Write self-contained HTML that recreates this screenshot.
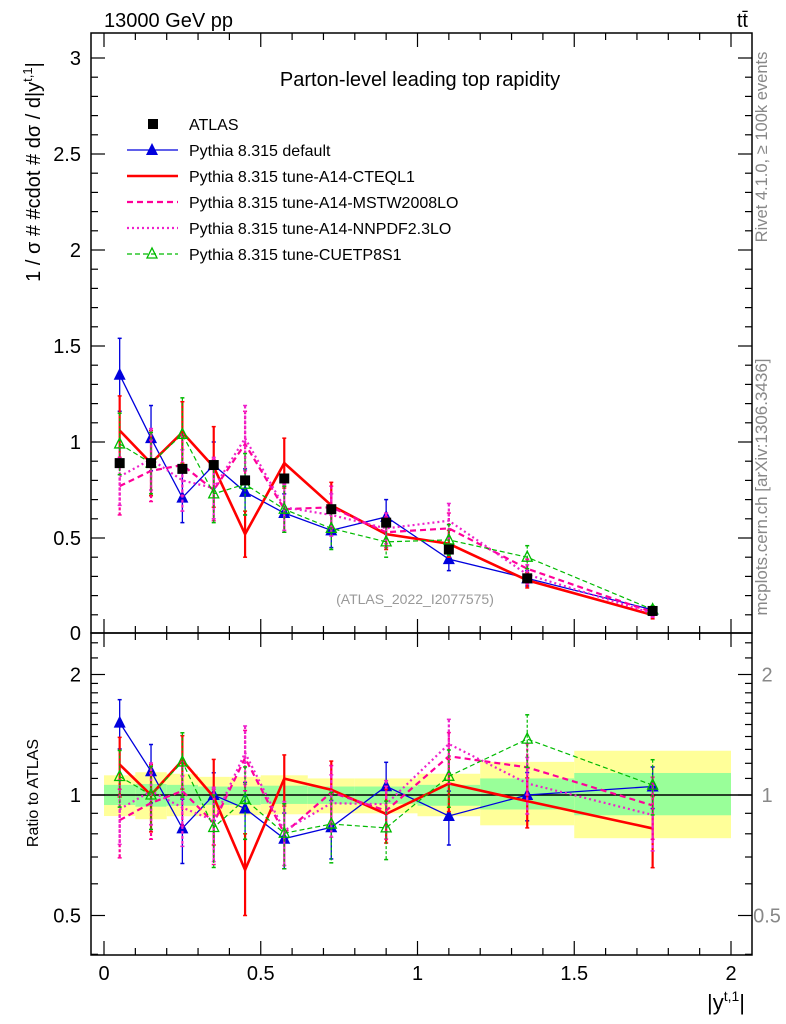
<!DOCTYPE html>
<html><head><meta charset="utf-8"><style>
html,body{margin:0;padding:0;background:#fff}
svg{display:block;font-family:"Liberation Sans",sans-serif}
</style></head><body>
<svg id="c" width="786" height="1024" viewBox="0 0 786 1024">
<g id="bands"></g>
<g id="marks"></g>
<g id="axes"></g>
<text x="104" y="27" font-size="20">13000 GeV pp</text>
<text x="748" y="27" font-size="20" text-anchor="end">tt̄</text>
<text x="420" y="86" font-size="20" text-anchor="middle">Parton-level leading top rapidity</text>
<text x="415" y="604" font-size="14" fill="#999" text-anchor="middle">(ATLAS_2022_I2077575)</text>
<text transform="translate(767,147) rotate(-90)" font-size="16.5" fill="#888" text-anchor="middle">Rivet 4.1.0, ≥ 100k events</text>
<text transform="translate(767,487) rotate(-90)" font-size="17" fill="#888" text-anchor="middle">mcplots.cern.ch [arXiv:1306.3436]</text>
<text transform="translate(40,172) rotate(-90)" font-size="20" text-anchor="middle">1 / σ # #cdot # dσ / d|y<tspan font-size="13" dy="-8">t,1</tspan><tspan dy="8">|</tspan></text>
<text transform="translate(38,793) rotate(-90)" font-size="16" text-anchor="middle">Ratio to ATLAS</text>
<text x="745" y="1010" font-size="22" text-anchor="end">|y<tspan font-size="14" dy="-9">t,1</tspan><tspan dy="9">|</tspan></text>
<g id="legend"></g>
</svg>
<script>
const edges=[0,0.1,0.2,0.3,0.4,0.5,0.65,0.8,1.0,1.2,1.5,2.0];
const centers=[0.05,0.15,0.25,0.35,0.45,0.575,0.725,0.9,1.1,1.35,1.75];
const atlas=[0.89,0.89,0.86,0.88,0.80,0.81,0.65,0.58,0.44,0.29,0.12];
const yellowUp=[1.12,1.14,1.13,1.11,1.11,1.12,1.10,1.10,1.13,1.21,1.29];
const yellowDn=[0.886,0.87,0.885,0.885,0.89,0.895,0.90,0.90,0.885,0.84,0.78];
const greenUp=[1.06,1.065,1.06,1.05,1.05,1.055,1.05,1.05,1.06,1.10,1.135];
const greenDn=[0.944,0.935,0.94,0.945,0.945,0.95,0.95,0.95,0.94,0.92,0.89];
const vDefault=[1.35,1.02,0.71,0.88,0.74,0.63,0.54,0.61,0.39,0.29,0.126];
const eDefault=[0.19,0.17,0.13,0.12,0.12,0.10,0.09,0.09,0.06,0.04,0.015];
const vCteq=[1.06,0.89,1.05,0.87,0.52,0.89,0.67,0.52,0.47,0.28,0.099];
const eCteq=[0.18,0.17,0.16,0.21,0.12,0.13,0.12,0.08,0.07,0.04,0.02];
const vMstw=[0.77,0.85,0.88,0.75,0.99,0.65,0.66,0.53,0.55,0.34,0.113];
const eMstw=[0.15,0.16,0.16,0.16,0.17,0.12,0.11,0.08,0.08,0.05,0.02];
const vNnpdf=[0.82,0.91,0.80,0.76,1.02,0.66,0.62,0.55,0.59,0.31,0.107];
const eNnpdf=[0.15,0.16,0.16,0.16,0.17,0.12,0.11,0.08,0.09,0.05,0.02];
const vCuet=[0.99,0.89,1.04,0.73,0.78,0.65,0.55,0.48,0.49,0.40,0.127];
const eCuet=[0.16,0.16,0.19,0.15,0.16,0.12,0.11,0.08,0.08,0.06,0.02];
const xTicks=[0,0.5,1,1.5,2];
const yTicks=[0.5,1,1.5,2,2.5,3];
const rTicks=[0.5,1,2];
const legendLabels=["ATLAS","Pythia 8.315 default","Pythia 8.315 tune-A14-CTEQL1","Pythia 8.315 tune-A14-MSTW2008LO","Pythia 8.315 tune-A14-NNPDF2.3LO","Pythia 8.315 tune-CUETP8S1"];

const NS="http://www.w3.org/2000/svg";
const L=91,R=752,T=33,M=633,B=955;
const X=v=>104+v*313.5;
const Y=v=>634-v*192;
const RY=v=>795-Math.log2(v)*120.5;
function mk(p,tag,a){const e=document.createElementNS(NS,tag);for(const k in a)e.setAttribute(k,a[k]);p.appendChild(e);return e;}
const bands=document.getElementById('bands'),marks=document.getElementById('marks'),axes=document.getElementById('axes'),leg=document.getElementById('legend');

for(let i=0;i<atlas.length;i++){
  let r=mk(bands,'rect',{x:X(edges[i]),y:RY(yellowUp[i]),width:X(edges[i+1])-X(edges[i]),height:RY(yellowDn[i])-RY(yellowUp[i]),fill:'#ffff99'});
  
  
  let g=mk(bands,'rect',{x:X(edges[i]),y:RY(greenUp[i]),width:X(edges[i+1])-X(edges[i]),height:RY(greenDn[i])-RY(greenUp[i]),fill:'#99ff99'});
  
  
}
let one=mk(bands,'line',{x1:L,x2:R,y1:RY(1),y2:RY(1),stroke:'#000','stroke-width':1.5});



const series=[
 {v:vDefault,e:eDefault,c:'#0000dd',w:1.3,d:'',m:'tri',name:'series-default'},
 {v:vCteq,e:eCteq,c:'#ff0000',w:2.6,d:'',m:'none',name:'series-cteql1'},
 {v:vMstw,e:eMstw,c:'#ff0099',w:2.2,d:'6,4',m:'none',name:'series-mstw2008lo'},
 {v:vNnpdf,e:eNnpdf,c:'#ee22cc',w:2.2,d:'2,3',m:'none',name:'series-nnpdf23lo'},
 {v:vCuet,e:eCuet,c:'#00bb00',w:1.2,d:'5,3',m:'otri',name:'series-cuetp8s1'}
];
function drawSeries(s,ytf,vals,errs){
  const g=mk(marks,'g',{});
  
  
  const pts=centers.map((c,i)=>X(c)+','+ytf(vals[i])).join(' ');
  mk(g,'polyline',{points:pts,fill:'none',stroke:s.c,'stroke-width':s.w,'stroke-dasharray':s.d});
  centers.forEach((c,i)=>{
    const x=X(c),y1=ytf(vals[i]+errs[i]),y2=ytf(Math.max(vals[i]-errs[i],0.01));
    mk(g,'line',{x1:x,x2:x,y1:y1,y2:y2,stroke:s.c,'stroke-width':Math.min(s.w,2.2),'stroke-dasharray':s.d?'3,2':''});
    mk(g,'line',{x1:x-2,x2:x+2,y1:y1,y2:y1,stroke:s.c,'stroke-width':1.5});
    mk(g,'line',{x1:x-2,x2:x+2,y1:y2,y2:y2,stroke:s.c,'stroke-width':1.5});
    const y=ytf(vals[i]);
    if(s.m==='tri'){const p=mk(g,'polygon',{points:`${x-6},${y+5} ${x+6},${y+5} ${x},${y-7}`,fill:s.c});
      
      }
    if(s.m==='otri'){const p=mk(g,'polygon',{points:`${x-5},${y+4} ${x+5},${y+4} ${x},${y-6}`,fill:'none',stroke:s.c,'stroke-width':1.3});
      
      }
  });
}
series.forEach(s=>drawSeries(s,Y,s.v,s.e));
centers.forEach((c,i)=>{
  const q=mk(marks,'rect',{x:X(c)-5,y:Y(atlas[i])-5,width:10,height:10,fill:'#000'});
  
  
});
series.forEach(s=>drawSeries(s,RY,s.v.map((v,i)=>v/atlas[i]),s.e.map((e,i)=>e/atlas[i])));

[[T,M],[M,B]].forEach(([a,b])=>{
  const f=mk(axes,'rect',{x:L,y:a,width:R-L,height:b-a,fill:'none',stroke:'#000','stroke-width':1.5});
  
  
});
for(let v=0;v<=2.0001;v+=0.1){
  const maj=Math.abs(v*2-Math.round(v*2))<1e-6, len=maj?14:7, x=X(v);
  [[M,M-len],[B,B-len],[T,T+len],[M,M+len]].forEach(([a,b])=>mk(axes,'line',{x1:x,x2:x,y1:a,y2:b,stroke:'#000','stroke-width':1.2}));
}
xTicks.forEach(v=>{const t=mk(axes,'text',{x:X(v),y:980,'font-size':20,'text-anchor':'middle'});t.textContent=v;
  
  });
for(let v=0.1;v<=3.1;v+=0.1){
  const maj=Math.abs(v*2-Math.round(v*2))<1e-6,len=maj?14:7,y=Y(v);
  mk(axes,'line',{x1:L,x2:L+len,y1:y,y2:y,stroke:'#000','stroke-width':1.2});
  mk(axes,'line',{x1:R,x2:R-len,y1:y,y2:y,stroke:'#000','stroke-width':1.2});
}
yTicks.forEach(v=>{const t=mk(axes,'text',{x:81,y:Y(v)+7,'font-size':20,'text-anchor':'end'});t.textContent=v;
  
  });
const z=mk(axes,'text',{x:81,y:640,'font-size':20,'text-anchor':'end'});z.textContent='0';


const rMinor=[0.4,0.5,0.6,0.7,0.8,0.9,1,1.1,1.2,1.3,1.4,1.5,1.6,1.7,1.8,1.9,2,2.2,2.4];
rMinor.forEach(v=>{const y=RY(v);if(y<M||y>B)return;const len=rTicks.includes(v)?14:7;
  mk(axes,'line',{x1:L,x2:L+len,y1:y,y2:y,stroke:'#000','stroke-width':1.2});
  mk(axes,'line',{x1:R,x2:R-len,y1:y,y2:y,stroke:'#000','stroke-width':1.2});});
rTicks.forEach(v=>{
  const t=mk(axes,'text',{x:81,y:RY(v)+7,'font-size':20,'text-anchor':'end'});t.textContent=v;
  
  
  const t2=mk(axes,'text',{x:767,y:RY(v)+7,'font-size':20,'fill':'#888','text-anchor':'middle'});t2.textContent=v;
  
  
});
legendLabels.forEach((lab,i)=>{
  const y=124+i*26;
  const g=mk(leg,'g',{});
  
  
  if(i===0){mk(g,'rect',{x:148,y:y-5,width:10,height:10,fill:'#000'});}
  else{const s=series[i-1];
    mk(g,'line',{x1:127,x2:178,y1:y,y2:y,stroke:s.c,'stroke-width':s.w,'stroke-dasharray':s.d});
    if(s.m==='tri')mk(g,'polygon',{points:`146,${y+5} 158,${y+5} 152,${y-7}`,fill:s.c});
    if(s.m==='otri')mk(g,'polygon',{points:`147,${y+4} 157,${y+4} 152,${y-6}`,fill:'none',stroke:s.c,'stroke-width':1.3});}
  const t=mk(g,'text',{x:189,y:y+6,'font-size':16});t.textContent=lab;
});
</script>
</body></html>
